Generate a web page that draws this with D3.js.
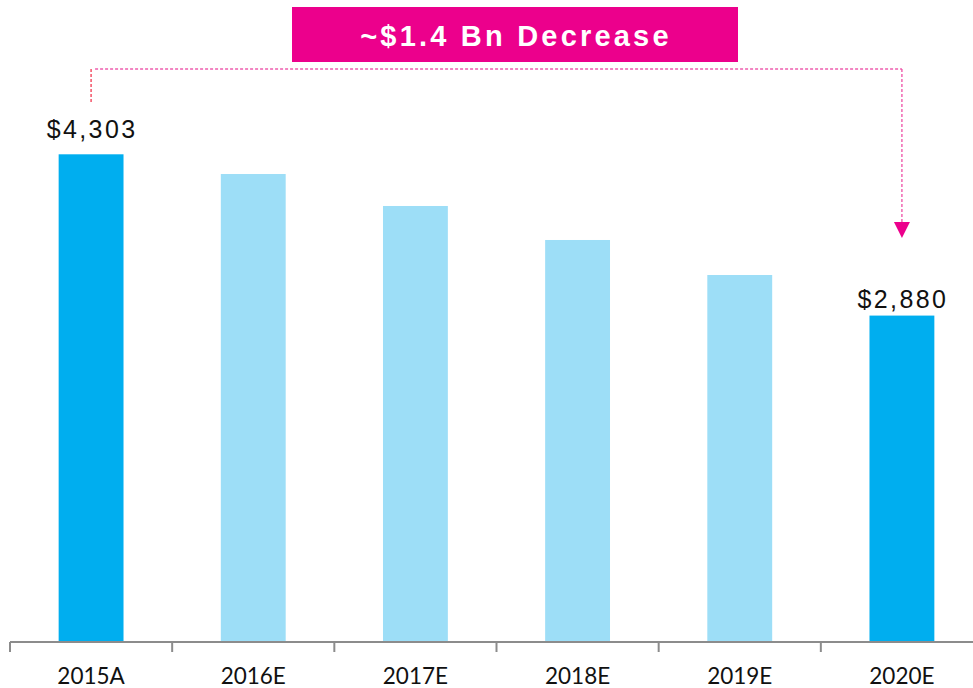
<!DOCTYPE html>
<html>
<head>
<meta charset="utf-8">
<script src="https://cdn.jsdelivr.net/npm/d3@7"></script>
<style>
  html, body { margin: 0; padding: 0; background: #fff; }
  svg { display: block; }
</style>
</head>
<body>
<svg id="chart" width="973" height="688"></svg>
<script>
const categories = ["2015A", "2016E", "2017E", "2018E", "2019E", "2020E"];
const values = [4303, 4129, 3847, 3547, 3238, 2880];
const actualFlags = [true, false, false, false, false, true];
const valueLabels = ["$4,303", null, null, null, null, "$2,880"];
const calloutText = "~$1.4 Bn Decrease";

const svg = d3.select("#chart");
const W = 973, H = 688;
const baseY = 642;

const x = d3.scaleBand().domain(categories).range([10, 983]).paddingInner(0.6).paddingOuter(0.3);
const y = d3.scaleLinear().domain([0, 4303]).range([baseY, 154.3]);

// bars
svg.append("g").selectAll("rect").data(categories).join("rect")
  .attr("x", d => x(d))
  .attr("width", x.bandwidth())
  .attr("y", (d, i) => y(values[i]))
  .attr("height", (d, i) => baseY - y(values[i]))
  .attr("fill", (d, i) => actualFlags[i] ? "#00AEEF" : "#9DDEF7");

// axis
const axis = d3.axisBottom(x).tickSize(0).tickPadding(0);
const gAxis = svg.append("g").attr("transform", `translate(0,${baseY})`).call(axis);
gAxis.select(".domain").remove();
gAxis.selectAll("text")
  .attr("y", 41.5).attr("dy", 0)
  .style("font-family", "Lato, 'Liberation Sans', sans-serif")
  .style("font-size", "22.5px")
  .attr("fill", "#111");
svg.append("line").attr("x1", 10).attr("x2", W).attr("y1", baseY).attr("y2", baseY)
  .attr("stroke", "#8c8c8c").attr("stroke-width", 2);
const step = x.step();
const tickXs = d3.range(categories.length + 1).map(i => 10 + i * step);
svg.append("g").selectAll("line").data(tickXs).join("line")
  .attr("x1", d => d).attr("x2", d => d)
  .attr("y1", baseY).attr("y2", baseY + 10)
  .attr("stroke", "#8c8c8c").attr("stroke-width", 2);

// value labels
const labelOffsets = [16.6, 0, 0, 0, 0, 8];
svg.append("g").selectAll("text").data(categories.filter((d, i) => valueLabels[i])).join("text")
  .attr("x", d => x(d) + x.bandwidth() / 2 + 1)
  .attr("y", d => { const i = categories.indexOf(d); return y(values[i]) - labelOffsets[i]; })
  .attr("text-anchor", "middle")
  .style("font-family", "'Liberation Sans', Arial, sans-serif")
  .style("font-size", "25px")
  .style("letter-spacing", "2.4px")
  .attr("fill", "#111")
  .text(d => valueLabels[categories.indexOf(d)]);

// callout box
svg.append("rect").attr("x", 292).attr("y", 7).attr("width", 446).attr("height", 55)
  .attr("fill", "#EC008C");
svg.append("text").attr("x", 516).attr("y", 46)
  .attr("text-anchor", "middle")
  .style("font-family", "'Liberation Sans', Arial, sans-serif")
  .style("font-weight", "bold")
  .style("font-size", "29px")
  .style("letter-spacing", "3.2px")
  .attr("fill", "#fff")
  .text(calloutText);

// dotted connector
const xStart = x(categories[0]) + x.bandwidth() / 2;
const xEnd = x(categories[categories.length - 1]) + x.bandwidth() / 2;
const lineY = 69;
svg.append("line").attr("x1", xStart).attr("x2", xStart).attr("y1", 102).attr("y2", lineY)
  .attr("stroke", "#F2384F").attr("stroke-width", 1.3).attr("stroke-dasharray", "3,2");
svg.append("line").attr("x1", xStart + 4).attr("x2", xEnd).attr("y1", lineY).attr("y2", lineY)
  .attr("stroke", "#EE5DAE").attr("stroke-width", 1.3).attr("stroke-dasharray", "3,2");
svg.append("line").attr("x1", xEnd).attr("x2", xEnd).attr("y1", lineY).attr("y2", 222)
  .attr("stroke", "#EE4FA5").attr("stroke-width", 1.3).attr("stroke-dasharray", "3,2");
svg.append("path")
  .attr("d", `M${xEnd - 8},222 L${xEnd + 8},222 L${xEnd},238 Z`)
  .attr("fill", "#EC008C");
</script>
</body>
</html>
